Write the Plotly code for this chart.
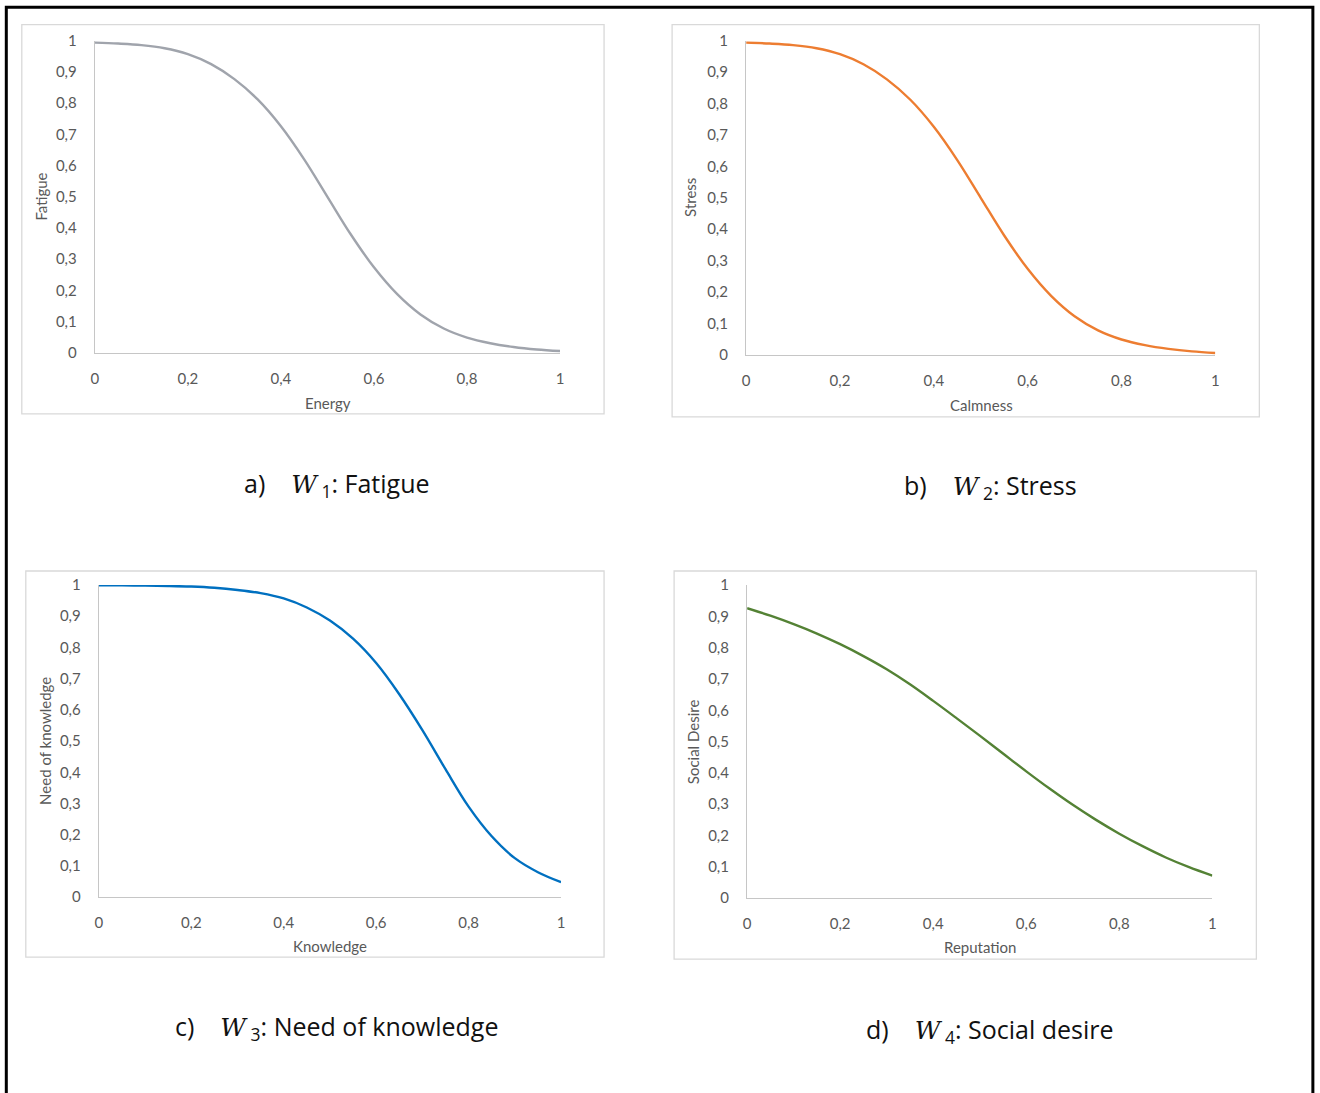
import plotly.graph_objects as go

W, H = 1320, 1093

# ---- data ----
x_vals = [0, 0.05, 0.1, 0.15, 0.2, 0.25, 0.3, 0.35, 0.4, 0.45, 0.5,
          0.55, 0.6, 0.65, 0.7, 0.75, 0.8, 0.85, 0.9, 0.95, 1.0]
fatigue = [0.994, 0.991, 0.986, 0.976, 0.957, 0.925, 0.877, 0.812, 0.726, 0.620, 0.500,
           0.380, 0.274, 0.188, 0.123, 0.078, 0.049, 0.031, 0.019, 0.011, 0.006]
stress = [0.994, 0.991, 0.986, 0.976, 0.957, 0.925, 0.877, 0.812, 0.726, 0.620, 0.500,
          0.380, 0.274, 0.188, 0.123, 0.078, 0.049, 0.031, 0.019, 0.011, 0.006]
knowledge = [0.999, 0.999, 0.998, 0.997, 0.995, 0.991, 0.984, 0.974, 0.957, 0.928, 0.886,
             0.828, 0.750, 0.650, 0.535, 0.410, 0.290, 0.195, 0.125, 0.080, 0.048]
social = [0.926, 0.902, 0.875, 0.845, 0.811, 0.773, 0.731, 0.683, 0.630, 0.575, 0.519,
          0.462, 0.405, 0.350, 0.298, 0.250, 0.206, 0.166, 0.130, 0.099, 0.072]

x_tickvals = [0, 0.2, 0.4, 0.6, 0.8, 1]
x_ticktext = ["0", "0,2", "0,4", "0,6", "0,8", "1"]
y_tickvals = [0, 0.1, 0.2, 0.3, 0.4, 0.5, 0.6, 0.7, 0.8, 0.9, 1]
y_ticktext = ["0", "0,1", "0,2", "0,3", "0,4", "0,5", "0,6", "0,7", "0,8", "0,9", "1"]

x_titles = ["Energy", "Calmness", "Knowledge", "Reputation"]
y_titles = ["Fatigue", "Stress", "Need of knowledge", "Social Desire"]
letters = ["a)", "b)", "c)", "d)"]
subs = ["1", "2", "3", "4"]
names = ["Fatigue", "Stress", "Need of knowledge", "Social desire"]
colors = ["#a0a4ac", "#ED7D31", "#0070C0", "#548235"]
series = [fatigue, stress, knowledge, social]

# ---- layout geometry (target pixels in the photographed picture) ----
plot_px = [  # x0, x1, ytop, ybottom
    (95, 560, 40, 352),
    (746, 1215, 40, 354),
    (99, 561, 584, 896),
    (747, 1212, 584, 897),
]
box_px = [(22, 24, 604, 413), (672, 24, 1259, 416), (26, 570, 604, 956), (674, 570, 1256, 958)]
xtitle_px = [(328, 402), (981, 404), (330, 945), (980, 946)]
ytitle_px = [(41, 196), (690, 197), (45, 740), (693, 741)]
caption_px = [(337, 484), (990, 486), (337, 1026), (990, 1029)]

# compensation for the capture mapping observed in earlier runs
SX, OX = 0.9935, 4.2
SY, OY = 0.983, 9.3

def px(x):
    return ((x - OX) / SX) / W

def py(y):
    return 1 - ((y - OY) / SY) / H

fig = go.Figure()
shapes = []
annotations = []
font_fam = "Lato, 'Liberation Sans', sans-serif"
cap_fam = "'Open Sans', 'Noto Sans', sans-serif"
tick_col = "#595959"

for i in range(4):
    xa = "x" if i == 0 else f"x{i+1}"
    ya = "y" if i == 0 else f"y{i+1}"
    fig.add_trace(go.Scatter(x=x_vals, y=series[i], mode="lines",
                             line=dict(color=colors[i], width=2.4, shape="spline", smoothing=1.0),
                             xaxis=xa, yaxis=ya, cliponaxis=False, showlegend=False,
                             hoverinfo="skip"))
    x0, x1, yt, yb = plot_px[i]
    axkey = "xaxis" if i == 0 else f"xaxis{i+1}"
    aykey = "yaxis" if i == 0 else f"yaxis{i+1}"
    fig.update_layout(**{
        axkey: dict(domain=[px(x0), px(x1)], range=[0, 1], anchor=ya,
                    tickvals=x_tickvals, ticktext=x_ticktext, showgrid=False,
                    zeroline=False, showline=True, linecolor="#c6c6c6", linewidth=1.3,
                    ticks="", ticklabelstandoff=12,
                    tickfont=dict(family=font_fam, size=15, color=tick_col), fixedrange=True),
        aykey: dict(domain=[py(yb), py(yt)], range=[0, 1], anchor=xa,
                    tickvals=y_tickvals, ticktext=y_ticktext, showgrid=False,
                    zeroline=False, showline=True, linecolor="#c6c6c6", linewidth=1.3,
                    ticks="", ticklabelstandoff=14,
                    tickfont=dict(family=font_fam, size=15, color=tick_col), fixedrange=True),
    })
    bx0, by0, bx1, by1 = box_px[i]
    shapes.append(dict(type="rect", xref="paper", yref="paper",
                       x0=px(bx0), x1=px(bx1), y0=py(by1), y1=py(by0),
                       line=dict(color="#d9d9d9", width=1.3), fillcolor="rgba(0,0,0,0)",
                       layer="below"))
    tx, ty = xtitle_px[i]
    annotations.append(dict(text=x_titles[i], xref="paper", yref="paper",
                            x=px(tx), y=py(ty), showarrow=False, xanchor="center",
                            yanchor="middle",
                            font=dict(family=font_fam, size=15, color=tick_col)))
    tx, ty = ytitle_px[i]
    annotations.append(dict(text=y_titles[i], xref="paper", yref="paper",
                            x=px(tx), y=py(ty), showarrow=False, xanchor="center",
                            yanchor="middle", textangle=-90,
                            font=dict(family=font_fam, size=15, color=tick_col)))
    cx, cy = caption_px[i]
    cap = (f"{letters[i]}    <span style=\"font-family:'DejaVu Serif';font-style:italic\">W</span>"
           f"<sub> {subs[i]}</sub>: {names[i]}")
    annotations.append(dict(text=cap, xref="paper", yref="paper",
                            x=px(cx), y=py(cy), showarrow=False, xanchor="center",
                            yanchor="middle",
                            font=dict(family=cap_fam, size=25, color="#111111")))

# outer black frame
shapes.append(dict(type="rect", xref="paper", yref="paper",
                   x0=px(6.5), x1=px(1312.5), y0=py(1120), y1=py(6.5),
                   line=dict(color="black", width=3), fillcolor="rgba(0,0,0,0)"))

fig.update_layout(width=W, height=H, margin=dict(l=0, r=0, t=0, b=0),
                  paper_bgcolor="white", plot_bgcolor="white",
                  shapes=shapes, annotations=annotations)

fig.write_html("out.html", config={"displayModeBar": False},
               post_script="document.body.style.margin='0';document.body.style.overflow='hidden';")
